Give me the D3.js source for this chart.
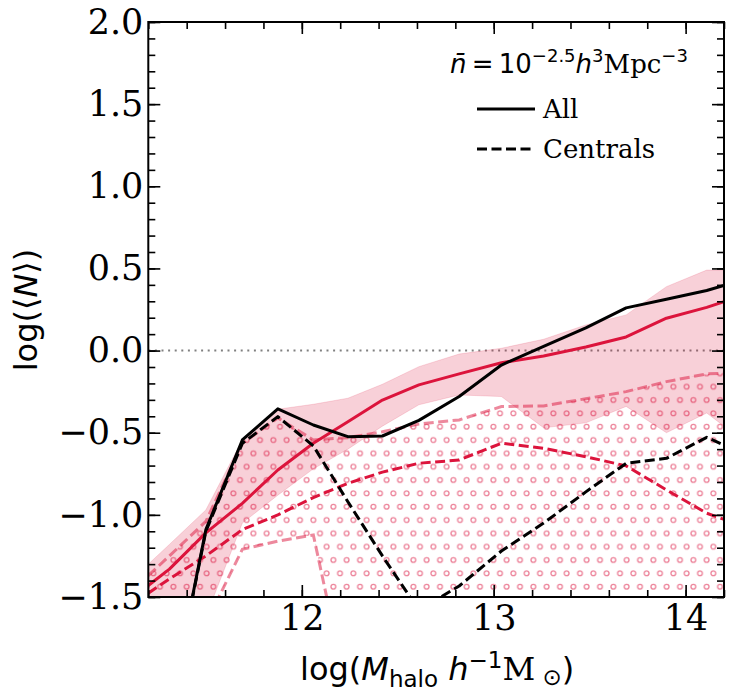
<!DOCTYPE html>
<html>
<head>
<meta charset="utf-8">
<script src="https://cdn.jsdelivr.net/npm/d3@7"></script>
<style>
  body { margin: 0; background: #fff; }
</style>
</head>
<body>
<svg id="chart" width="732" height="698"></svg>
<script>
// halo mass bins, log(M_halo / h^-1 Msun)
const massBins = [11.2, 11.31, 11.50, 11.69, 11.875, 12.06, 12.24, 12.42, 12.61, 12.82, 13.04, 13.26, 13.48, 13.69, 13.90, 14.11, 14.2];

// black: target occupation
const allTarget      = [-3.0, -2.2, -1.09, -0.544, -0.355, -0.453, -0.524, -0.52, -0.425, -0.28, -0.088, 0.026, 0.138, 0.26, 0.312, 0.366, 0.397];
const centralsTarget = [-3.0, -2.2, -1.10, -0.565, -0.402, -0.58, -0.92, -1.25, -1.58, -1.433, -1.22, -1.05, -0.86, -0.686, -0.656, -0.528, -0.575];

// crimson: model mean
const allModel      = [-1.43, -1.33, -1.11, -0.93, -0.727, -0.564, -0.433, -0.301, -0.209, -0.142, -0.074, -0.033, 0.022, 0.083, 0.197, 0.263, 0.297];
const centralsModel = [-1.477, -1.39, -1.25, -1.09, -1.0, -0.895, -0.808, -0.74, -0.686, -0.666, -0.564, -0.595, -0.646, -0.702, -0.848, -0.99, -1.027];

// scatter of the model
const allModelHi = [-1.30, -1.18, -0.97, -0.544, -0.357, -0.327, -0.29, -0.205, -0.098, -0.021, 0.014, 0.069, 0.156, 0.217, 0.389, 0.49, 0.49];
const allModelLo = [-2.2, -1.95, -1.62, -1.05, -0.88, -0.72, -0.60, -0.46, -0.33, -0.27, -0.28, -0.47, -0.44, -0.34, -0.50, -0.38, -0.46];
const centralsModelHi = [-1.37, -1.25, -1.04, -0.565, -0.41, -0.544, -0.53, -0.494, -0.447, -0.422, -0.341, -0.337, -0.293, -0.25, -0.189, -0.142, -0.138];
const centralsModelLo = [-2.8, -2.3, -1.66, -1.21, -1.16, -1.122, -2.1, -3.0, -3.0, -3.0, -3.0, -3.0, -3.0, -3.0, -3.0, -3.0, -3.0];

const xTicks = [12, 13, 14];
const yTicks = [-1.5, -1.0, -0.5, 0.0, 0.5, 1.0, 1.5, 2.0];

const LEFT = 148.3, RIGHT = 724, TOP = 22, BOTTOM = 597;
const CRIMSON = "#DC143C";
const SERIF = "DejaVu Serif", SANS = "DejaVu Sans";
const DASH = "10,4.5";

var translate = function (x, y) {
    return "translate(" + x + "," + y + ")";
};

var svg = d3.select("#chart");

var x = d3.scaleLinear().domain([11.2, 14.2]).range([LEFT, RIGHT]);
var y = d3.scaleLinear().domain([-1.5, 2.0]).range([BOTTOM, TOP]);

var defs = svg.append("defs");
defs.append("clipPath").attr("id", "plotClip")
    .append("rect")
    .attr("x", LEFT).attr("y", TOP)
    .attr("width", RIGHT - LEFT).attr("height", BOTTOM - TOP);

// 'o' hatch, staggered rows
var hatch = defs.append("pattern")
    .attr("id", "hatchO")
    .attr("patternUnits", "userSpaceOnUse")
    .attr("x", 443.33).attr("y", 473.33)
    .attr("width", 13.333).attr("height", 26.667);
[[10, 6.667], [3.333, 20]].forEach(function (c) {
    hatch.append("circle")
        .attr("cx", c[0]).attr("cy", c[1]).attr("r", 2.4)
        .attr("fill", "none")
        .attr("stroke", "#ec8299")
        .attr("stroke-width", 1.3);
});

var plot = svg.append("g").attr("clip-path", "url(#plotClip)");

var idx = d3.range(massBins.length);

var band = function (lo, hi) {
    return d3.area()
        .x(function (i) { return x(massBins[i]); })
        .y0(function (i) { return y(lo[i]); })
        .y1(function (i) { return y(hi[i]); })(idx);
};
var line = function (vals) {
    return d3.line()
        .x(function (i) { return x(massBins[i]); })
        .y(function (i) { return y(vals[i]); })(idx);
};

// zero line
plot.append("line")
    .attr("x1", LEFT).attr("x2", RIGHT)
    .attr("y1", y(0)).attr("y2", y(0))
    .attr("stroke", "#808080")
    .attr("stroke-width", 2)
    .attr("stroke-dasharray", "2,4.6");

// centrals scatter (hatched)
plot.append("path")
    .attr("d", band(centralsModelLo, centralsModelHi))
    .attr("fill", "url(#hatchO)");

// all scatter (shaded)
plot.append("path")
    .attr("d", band(allModelLo, allModelHi))
    .attr("fill", CRIMSON)
    .attr("fill-opacity", 0.2)
    .attr("stroke", CRIMSON)
    .attr("stroke-opacity", 0.15)
    .attr("stroke-width", 1);

[centralsModelHi, centralsModelLo].forEach(function (vals) {
    plot.append("path")
        .attr("d", line(vals))
        .attr("fill", "none")
        .attr("stroke", CRIMSON)
        .attr("stroke-opacity", 0.5)
        .attr("stroke-width", 3)
        .attr("stroke-dasharray", DASH);
});

var series = [
    { vals: allModel, color: CRIMSON, dash: null },
    { vals: centralsModel, color: CRIMSON, dash: DASH },
    { vals: allTarget, color: "#000", dash: null },
    { vals: centralsTarget, color: "#000", dash: DASH }
];
series.forEach(function (s) {
    plot.append("path")
        .attr("d", line(s.vals))
        .attr("fill", "none")
        .attr("stroke", s.color)
        .attr("stroke-width", 3)
        .attr("stroke-linejoin", "round")
        .attr("stroke-dasharray", s.dash);
});

// axes, ticks pointing inward on all four sides
var styleAxis = function (g) {
    g.select(".domain").remove();
    g.selectAll(".tick line").attr("stroke", "#000").attr("stroke-width", 1.6);
    g.selectAll("text")
        .attr("font-family", SERIF)
        .attr("font-size", 35)
        .attr("fill", "#000");
};

var xMinor = d3.range(11.2, 14.21, 0.2);
var yMinor = d3.range(-1.5, 2.01, 0.1);
var fmt1 = d3.format(".1f");

svg.append("g").attr("transform", translate(0, BOTTOM))
    .call(d3.axisBottom(x).tickValues(xMinor).tickSize(-7).tickFormat(""))
    .call(styleAxis);
svg.append("g").attr("transform", translate(0, BOTTOM))
    .call(d3.axisBottom(x).tickValues(xTicks).tickSize(-12).tickPadding(8).tickFormat(d3.format("d")))
    .call(styleAxis);
svg.append("g").attr("transform", translate(0, TOP))
    .call(d3.axisTop(x).tickValues(xMinor).tickSize(-7).tickFormat(""))
    .call(styleAxis);
svg.append("g").attr("transform", translate(0, TOP))
    .call(d3.axisTop(x).tickValues(xTicks).tickSize(-12).tickFormat(""))
    .call(styleAxis);

svg.append("g").attr("transform", translate(LEFT, 0))
    .call(d3.axisLeft(y).tickValues(yMinor).tickSize(-7).tickFormat(""))
    .call(styleAxis);
svg.append("g").attr("transform", translate(LEFT, 0))
    .call(d3.axisLeft(y).tickValues(yTicks).tickSize(-12).tickPadding(5).tickFormat(fmt1))
    .call(styleAxis);
svg.append("g").attr("transform", translate(RIGHT, 0))
    .call(d3.axisRight(y).tickValues(yMinor).tickSize(-7).tickFormat(""))
    .call(styleAxis);
svg.append("g").attr("transform", translate(RIGHT, 0))
    .call(d3.axisRight(y).tickValues(yTicks).tickSize(-12).tickFormat(""))
    .call(styleAxis);

svg.append("rect")
    .attr("x", LEFT).attr("y", TOP)
    .attr("width", RIGHT - LEFT).attr("height", BOTTOM - TOP)
    .attr("fill", "none")
    .attr("stroke", "#000")
    .attr("stroke-width", 2);

// axis labels
var xl = svg.append("text")
    .attr("x", (LEFT + RIGHT) / 2 + 1).attr("y", 680)
    .attr("text-anchor", "middle")
    .attr("font-family", SANS)
    .attr("font-size", 32);
xl.append("tspan").text("log(");
xl.append("tspan").attr("font-style", "italic").text("M");
xl.append("tspan").attr("font-size", 23).attr("dy", 7).text("halo");
xl.append("tspan").attr("dy", -7).text(" ");
xl.append("tspan").attr("font-style", "italic").text("h");
xl.append("tspan").attr("font-size", 23).attr("dy", -12).text("\u22121");
xl.append("tspan").attr("dy", 12).attr("font-family", SERIF).text("M");
xl.append("tspan").attr("font-size", 23).attr("dy", 5).text(" \u2299");
xl.append("tspan").attr("dy", -5).text(")");

var yl = svg.append("text")
    .attr("transform", translate(36.5, 310) + " rotate(-90)")
    .attr("text-anchor", "middle")
    .attr("font-family", SANS)
    .attr("font-size", 32);
yl.append("tspan").text("log(\u27E8");
yl.append("tspan").attr("font-style", "italic").text("N");
yl.append("tspan").text("\u27E9)");

// legend
var lt = svg.append("text")
    .attr("x", 569).attr("y", 73)
    .attr("text-anchor", "middle")
    .attr("font-family", SANS)
    .attr("font-size", 26);
lt.append("tspan").attr("font-style", "italic").text("n\u0304");
lt.append("tspan").text("\u2009=\u200910");
lt.append("tspan").attr("font-size", 18).attr("dy", -11).text("\u22122.5");
lt.append("tspan").attr("dy", 11).attr("font-style", "italic").text("h");
lt.append("tspan").attr("font-size", 18).attr("dy", -11).text("3");
lt.append("tspan").attr("dy", 11).attr("font-family", SERIF).text("Mpc");
lt.append("tspan").attr("font-size", 18).attr("dy", -11).text("\u22123");

var legendItems = [
    { label: "All", dash: null, y: 109 },
    { label: "Centrals", dash: DASH, y: 149 }
];
legendItems.forEach(function (d) {
    svg.append("line")
        .attr("x1", 477).attr("x2", 535)
        .attr("y1", d.y).attr("y2", d.y)
        .attr("stroke", "#000")
        .attr("stroke-width", 3)
        .attr("stroke-dasharray", d.dash);
    svg.append("text")
        .attr("x", 543).attr("y", d.y + 9)
        .attr("font-family", SERIF)
        .attr("font-size", 26)
        .text(d.label);
});
</script>
</body>
</html>
